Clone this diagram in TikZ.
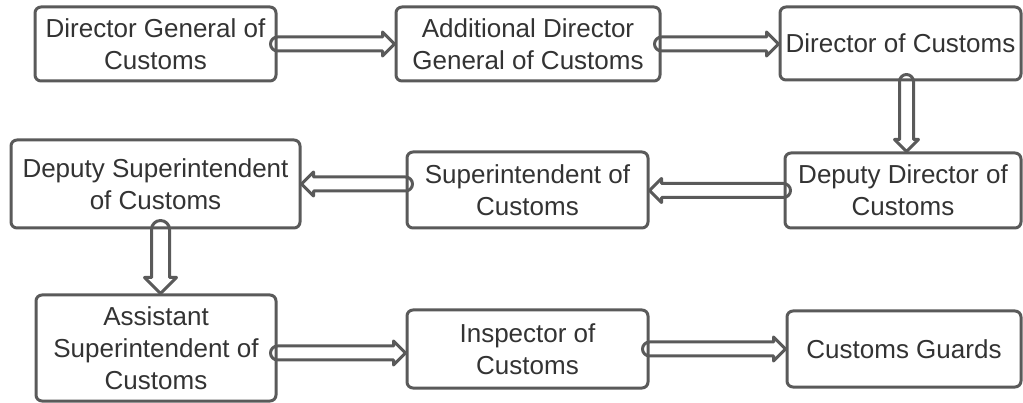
\documentclass[tikz,border=0pt]{standalone}
\usepackage{fontspec}
\setmainfont{Liberation Sans}
\usetikzlibrary{calc}
\definecolor{boxline}{HTML}{5A5A5A}
\definecolor{txt}{HTML}{333333}
\tikzset{
  box/.style={draw=boxline, line width=3pt, rounded corners=6pt, fill=white,
    align=center, inner sep=0pt, text=txt,
    font=\fontsize{26}{32}\selectfont},
  arr/.style={draw=boxline, line width=3pt, line join=round}
}
% right arrow: from, to, half shaft, half head, head length
\newcommand\arrR[5]{\draw[arr] let \p1=(#1), \p2=(#2) in
  (\x1,\y1+#3) -- (\x2-#5,\y1+#3) -- (\x2-#5,\y1+#4) -- (\x2,\y1) -- (\x2-#5,\y1-#4) -- (\x2-#5,\y1-#3) -- (\x1,\y1-#3)
  arc[start angle=270,end angle=90,radius=#3] -- cycle;}
\newcommand\arrL[5]{\draw[arr] let \p1=(#1), \p2=(#2) in
  (\x1,\y1+#3) -- (\x2+#5,\y1+#3) -- (\x2+#5,\y1+#4) -- (\x2,\y1) -- (\x2+#5,\y1-#4) -- (\x2+#5,\y1-#3) -- (\x1,\y1-#3)
  arc[start angle=-90,end angle=90,radius=#3] -- cycle;}
\newcommand\arrD[5]{\draw[arr] let \p1=(#1), \p2=(#2) in
  (\x1-#3,\y1) -- (\x1-#3,\y2+#5) -- (\x1-#4,\y2+#5) -- (\x1,\y2) -- (\x1+#4,\y2+#5) -- (\x1+#3,\y2+#5) -- (\x1+#3,\y1)
  arc[start angle=0,end angle=180,radius=#3] -- cycle;}
\begin{document}
\begin{tikzpicture}[x=1pt,y=-1pt]
\useasboundingbox (0,0) rectangle (1023,403);
\node[box, minimum width=241pt, minimum height=74pt] (dg)  at (155.5,44) {Director General of\\Customs};
\node[box, minimum width=264pt, minimum height=74pt] (adg) at (528,44) {Additional Director\\General of Customs};
\node[box, minimum width=241pt, minimum height=73pt] (dir) at (900.5,43.5) {Director of Customs};
\node[box, minimum width=236pt, minimum height=75pt] (dd)  at (903,190.5) {Deputy Director of\\Customs};
\node[box, minimum width=241pt, minimum height=76pt] (sup) at (527.5,190) {Superintendent of\\Customs};
\node[box, minimum width=289pt, minimum height=88pt] (ds)  at (155.5,184) {Deputy Superintendent\\of Customs};
\node[box, minimum width=240pt, minimum height=106pt] (as) at (156,348) {Assistant\\Superintendent of\\Customs};
\node[box, minimum width=241pt, minimum height=78pt] (ins) at (527.5,349) {Inspector of\\Customs};
\node[box, minimum width=234pt, minimum height=76pt] (cg)  at (904,349) {Customs Guards};
\coordinate (dirS) at ($(dir.south)+(6,0)$);
\coordinate (ddN) at (dirS |- dd.north);
\coordinate (dsS) at ($(ds.south)+(5,0)$);
\coordinate (asN) at (dsS |- as.north);
\coordinate (asE) at ($(as.east)+(0,5)$);
\coordinate (insW) at (ins.west |- asE);
\arrR{dg.east}{adg.west}{7pt}{12pt}{12pt}
\arrR{adg.east}{dir.west}{7pt}{12pt}{12pt}
\arrD{dirS}{ddN}{7pt}{12pt}{12pt}
\arrL{dd.west}{sup.east}{7pt}{12pt}{12pt}
\arrL{sup.west |- ds.east}{ds.east}{7pt}{12pt}{12pt}
\arrD{dsS}{asN}{9pt}{16pt}{16pt}
\arrR{asE}{insW}{7pt}{12pt}{12pt}
\arrR{ins.east}{cg.west}{7pt}{12pt}{12pt}
\end{tikzpicture}
\end{document}
